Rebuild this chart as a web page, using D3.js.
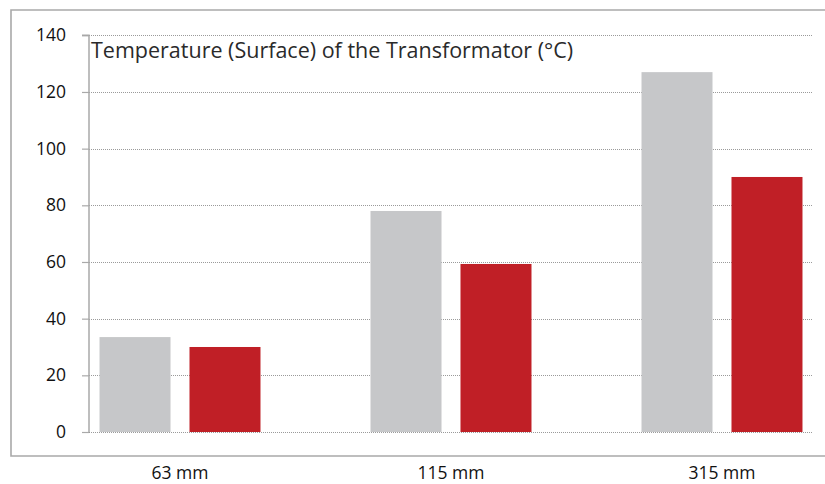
<!DOCTYPE html>
<html><head><meta charset="utf-8">
<script src="https://cdn.jsdelivr.net/npm/d3@7/dist/d3.min.js"></script>
<style>
html,body{margin:0;padding:0;background:#fff;}
svg{display:block;font-family:"Open Sans","Noto Sans",sans-serif;}
</style></head>
<body><svg id="c" width="825" height="484"></svg>
<script>
const categories = ["63 mm", "115 mm", "315 mm"];
const seriesNames = ["Standard", "Optimized"];
const standardValues = [33.5, 78, 127];
const optimizedValues = [30, 59.3, 90];
const yTicks = [0, 20, 40, 60, 80, 100, 120, 140];
const title = "Temperature (Surface) of the Transformator (°C)";
const colors = ["#c6c7c9", "#c01f26"];

const svg = d3.select("#c");
const plotLeft = 89, plotRight = 813, plotTop = 35.3, plotBottom = 432;

// frame
svg.append("path")
  .attr("d", `M827,10 H11 V456 H827`)
  .attr("fill", "none").attr("stroke", "#a9a9a9").attr("stroke-width", 1.6);

const y = d3.scaleLinear().domain([0, 140]).range([plotBottom, plotTop]);
const x0 = d3.scaleBand().domain(categories).range([plotLeft, plotRight])
  .paddingInner(0.406).paddingOuter(0.0388);
const x1 = d3.scaleBand().domain(seriesNames).range([0, x0.bandwidth()])
  .paddingInner(0.211).paddingOuter(0);

// gridlines
svg.append("g").selectAll("line").data(yTicks).join("line")
  .attr("x1", plotLeft).attr("x2", plotRight)
  .attr("y1", d => Math.round(y(d)) + 0.5).attr("y2", d => Math.round(y(d)) + 0.5)
  .attr("stroke", "#9a9a9a").attr("stroke-width", 1).attr("stroke-dasharray", "1,1");

// bars
const data = categories.map((c, i) => ({cat: c, vals: [standardValues[i], optimizedValues[i]]}));
const g = svg.append("g").selectAll("g").data(data).join("g")
  .attr("transform", d => `translate(${x0(d.cat)},0)`);
g.selectAll("rect").data(d => d.vals.map((v, j) => ({s: seriesNames[j], v, j}))).join("rect")
  .attr("x", d => x1(d.s)).attr("width", x1.bandwidth())
  .attr("y", d => y(d.v)).attr("height", d => y(0) - y(d.v))
  .attr("fill", d => colors[d.j]);

// y axis
const yAxis = d3.axisLeft(y).tickValues(yTicks).tickSize(7).tickPadding(16).tickFormat(d3.format("d"));
const ya = svg.append("g").attr("transform", `translate(${plotLeft},0)`).call(yAxis);
ya.select(".domain").attr("stroke", "#a9a9a9").attr("stroke-width", 1.5)
  .attr("d", `M-7,${y(140)}H0V${y(0)}`);
ya.selectAll(".tick line").attr("stroke", "#a9a9a9").attr("stroke-width", 1.2);
ya.selectAll(".tick text").attr("font-size", 17.5).attr("fill", "#111")
  .attr("font-family", "'Open Sans','Noto Sans',sans-serif");

// x labels
svg.append("g").selectAll("text").data(categories).join("text")
  .attr("x", d => x0(d) + x0.bandwidth() / 2)
  .attr("y", 479)
  .attr("text-anchor", "middle")
  .attr("font-size", 17.5).attr("fill", "#111")
  .text(d => d);

// title
svg.append("text").attr("x", 91).attr("y", 58)
  .attr("font-size", 21.5).attr("fill", "#2a2a2a")
  .text(title);
</script></body></html>
